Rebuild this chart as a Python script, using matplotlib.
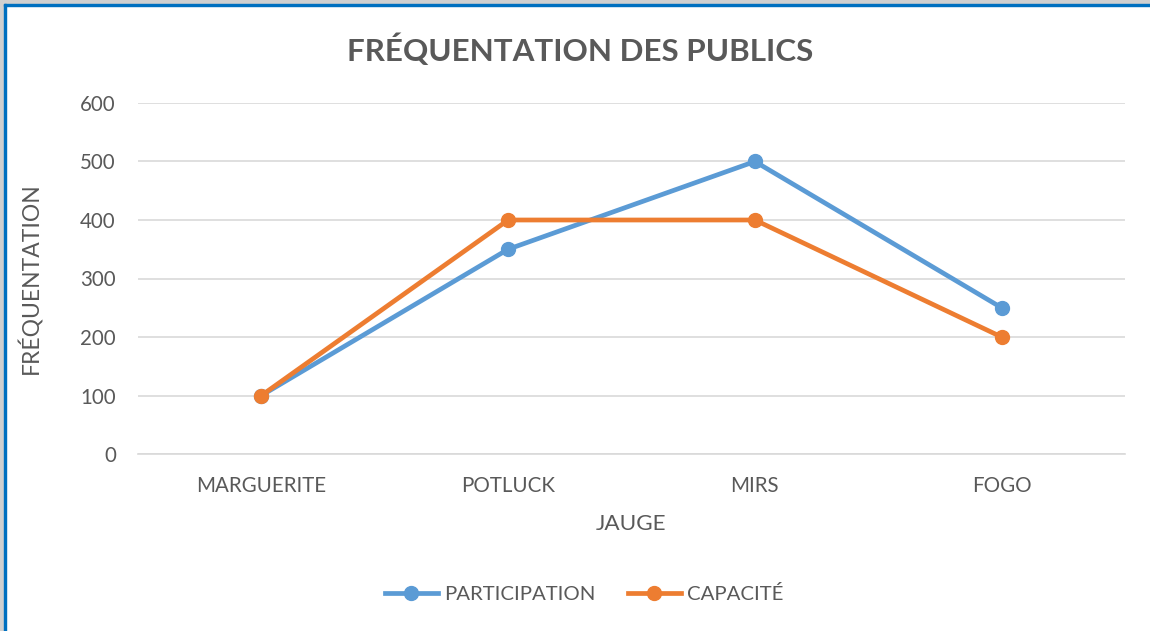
import matplotlib
matplotlib.use("Agg")
import matplotlib.pyplot as plt
from matplotlib.patches import Rectangle

categories = ["MARGUERITE", "POTLUCK", "MIRS", "FOGO"]
participation = [100, 350, 500, 250]
capacite = [100, 400, 400, 200]
yticks = [0, 100, 200, 300, 400, 500, 600]

plt.rcParams['font.family'] = ['Lato', 'DejaVu Sans']
TXT = '#595959'
BLUE = '#5B9BD5'
ORANGE = '#ED7D31'

W, H = 1150, 631
fig = plt.figure(figsize=(W/100, H/100), dpi=100)
ax = fig.add_axes([138/W, 1-454/H, (1125-138)/W, (454-103)/H])

x = list(range(len(categories)))
ax.plot(x, participation, color=BLUE, lw=3.4, marker='o', ms=10, label='PARTICIPATION', zorder=3)
ax.plot(x, capacite, color=ORANGE, lw=3.4, marker='o', ms=10, label='CAPACITÉ', zorder=4)

ax.set_xlim(-0.5, 3.5)
ax.set_ylim(0, 600)
ax.set_yticks(yticks)
ax.set_xticks(x)
ax.set_xticklabels(categories)
ax.grid(axis='y', color='#D9D9D9', lw=1.2)
ax.set_axisbelow(True)
for s in ['top', 'right', 'left']:
    ax.spines[s].set_visible(False)
ax.spines['bottom'].set_color('#D9D9D9')
ax.spines['bottom'].set_linewidth(1.2)
ax.tick_params(length=0, labelsize=14.8, colors=TXT)
ax.tick_params(axis='y', pad=16)
ax.tick_params(axis='x', pad=16)
ax.set_xlabel('JAUGE', fontsize=16.2, color=TXT, labelpad=13)
ax.set_ylabel('FRÉQUENTATION', fontsize=16.5, color=TXT, labelpad=27)

fig.text(580/W, 1-50/H, 'FRÉQUENTATION DES PUBLICS', ha='center', va='center',
         fontsize=22.6, fontweight='bold', color=TXT)

leg = fig.legend(loc='center', bbox_to_anchor=(584/W, 1-594/H), ncol=2, frameon=False,
                 fontsize=14.7, handlelength=2.6, handletextpad=0.3, columnspacing=1.6)
for t in leg.get_texts():
    t.set_color(TXT)

# border
fig.patches.append(Rectangle((0, 1-4/H), 1, 4/H, transform=fig.transFigure, color='#D0D0D0', zorder=0))
fig.patches.append(Rectangle((0, 0), 4/W, 1, transform=fig.transFigure, color='#D0D0D0', zorder=0))
fig.patches.append(Rectangle((4/W, 1-6/H), 1, 2/H, transform=fig.transFigure, color='#0070C0', zorder=1))
fig.patches.append(Rectangle((4/W, 0), 2/W, 1-4/H, transform=fig.transFigure, color='#0070C0', zorder=1))

fig.savefig('out.png', dpi=100)
